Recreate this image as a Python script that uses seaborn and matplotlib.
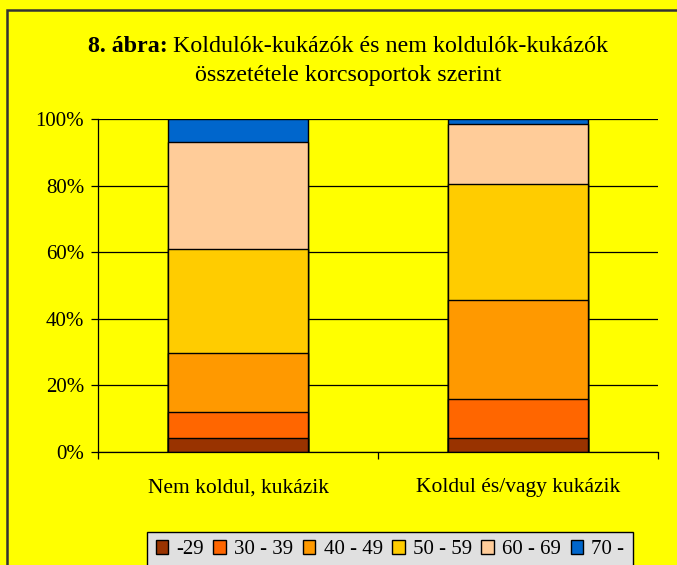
import matplotlib
matplotlib.use("Agg")
import matplotlib.pyplot as plt
import matplotlib.patches as mpatches
import numpy as np
import pandas as pd
import seaborn as sns

categories = ["Nem koldul, kukázik", "Koldul és/vagy kukázik"]
age_groups = ["-29", "30 - 39", "40 - 49", "50 - 59", "60 - 69", "70 -"]
v_29 = [4.3, 4.3]
v_30_39 = [7.7, 11.5]
v_40_49 = [17.8, 29.7]
v_50_59 = [31.1, 35.0]
v_60_69 = [32.3, 18.1]
v_70 = [6.8, 1.4]
colors = ["#993300", "#FF6600", "#FF9900", "#FFCC00", "#FFCC99", "#0066CC"]
y_ticks = [0, 20, 40, 60, 80, 100]
y_tick_labels = ["0%", "20%", "40%", "60%", "80%", "100%"]

series = [v_29, v_30_39, v_40_49, v_50_59, v_60_69, v_70]
rows = []
for g, vals in zip(age_groups, series):
    for c, v in zip(categories, vals):
        rows.append({"cat": c, "group": g, "value": v})
df = pd.DataFrame(rows)
df["group"] = pd.Categorical(df["group"], categories=age_groups, ordered=True)
df = df.sort_values(["cat", "group"])
df["cum"] = df.groupby("cat", sort=False)["value"].cumsum()

FONT = "Liberation Serif"
W, H = 677, 565
fig = plt.figure(figsize=(W / 100, H / 100), dpi=100, facecolor="#FFFF00")
ax = fig.add_axes([98 / W, 1 - 452 / H, 560 / W, 333 / H])
ax.set_facecolor("#FFFF00")

# frame around chart area
fig.patches.append(mpatches.Rectangle((7 / W, -0.1), 1.0, 1.1 - 10 / H, transform=fig.transFigure,
                                      fill=False, edgecolor="#333333", linewidth=1.8, zorder=0))

for y in y_ticks:
    ax.axhline(y, color="black", linewidth=0.9, zorder=0)

for g, col in reversed(list(zip(age_groups, colors))):
    sub = df[df["group"] == g]
    sns.barplot(data=sub, x="cat", y="cum", order=categories, color=col, width=0.5,
                edgecolor="black", linewidth=1.0, saturation=1, ax=ax, zorder=2)

ax.set_xlim(-0.5, 1.5)
ax.set_ylim(0, 100)
ax.set_xlabel("")
ax.set_ylabel("")
ax.set_yticks(y_ticks)
ax.set_yticklabels(y_tick_labels, fontsize=15, family=FONT)
ax.set_xticks([-0.5, 0.5, 1.5])
ax.set_xticklabels([])
ax.set_xticks([0, 1], minor=True)
ax.set_xticklabels(categories, minor=True, fontsize=15.5, family=FONT)
ax.tick_params(axis="x", which="minor", length=0, pad=19)
ax.tick_params(axis="x", which="major", length=5, width=0.9)
ax.tick_params(axis="y", length=5, width=0.9, pad=5)
for s in ["top", "right"]:
    ax.spines[s].set_visible(False)
for s in ["left", "bottom"]:
    ax.spines[s].set_linewidth(0.9)
    ax.spines[s].set_color("black")

# title
TS = 17.3
cx = 348 / W
t1 = fig.text(0, 1 - 46 / H, "8. ábra:", fontsize=TS, family=FONT, fontweight="bold",
              ha="left", va="center")
t2 = fig.text(0, 1 - 46 / H, "Koldulók-kukázók és nem koldulók-kukázók", fontsize=TS,
              family=FONT, ha="left", va="center")
fig.canvas.draw()
w1 = t1.get_window_extent().width
w2 = t2.get_window_extent().width
gap = 5
total = w1 + gap + w2
x0 = cx * W - total / 2
t1.set_x(x0 / W)
t2.set_x((x0 + w1 + gap) / W)
fig.text(cx, 1 - 76 / H, "összetétele korcsoportok szerint", fontsize=TS, family=FONT,
         ha="center", va="center")

handles = [mpatches.Patch(facecolor=c, edgecolor="black", linewidth=1.0, label=g)
           for g, c in zip(age_groups, colors)]
leg = fig.legend(handles=handles, loc="upper center", bbox_to_anchor=(390 / W, 1 - 532 / H),
                 ncol=6, frameon=True, fancybox=False, edgecolor="black", facecolor="#E0E0E0",
                 framealpha=1, prop={"family": FONT, "size": 15}, handlelength=0.6,
                 handleheight=0.6, handletextpad=0.4, columnspacing=0.45, borderaxespad=0,
                 borderpad=0.4)
leg.get_frame().set_linewidth(1.0)

fig.savefig("out.png", dpi=100, facecolor="#FFFF00")
